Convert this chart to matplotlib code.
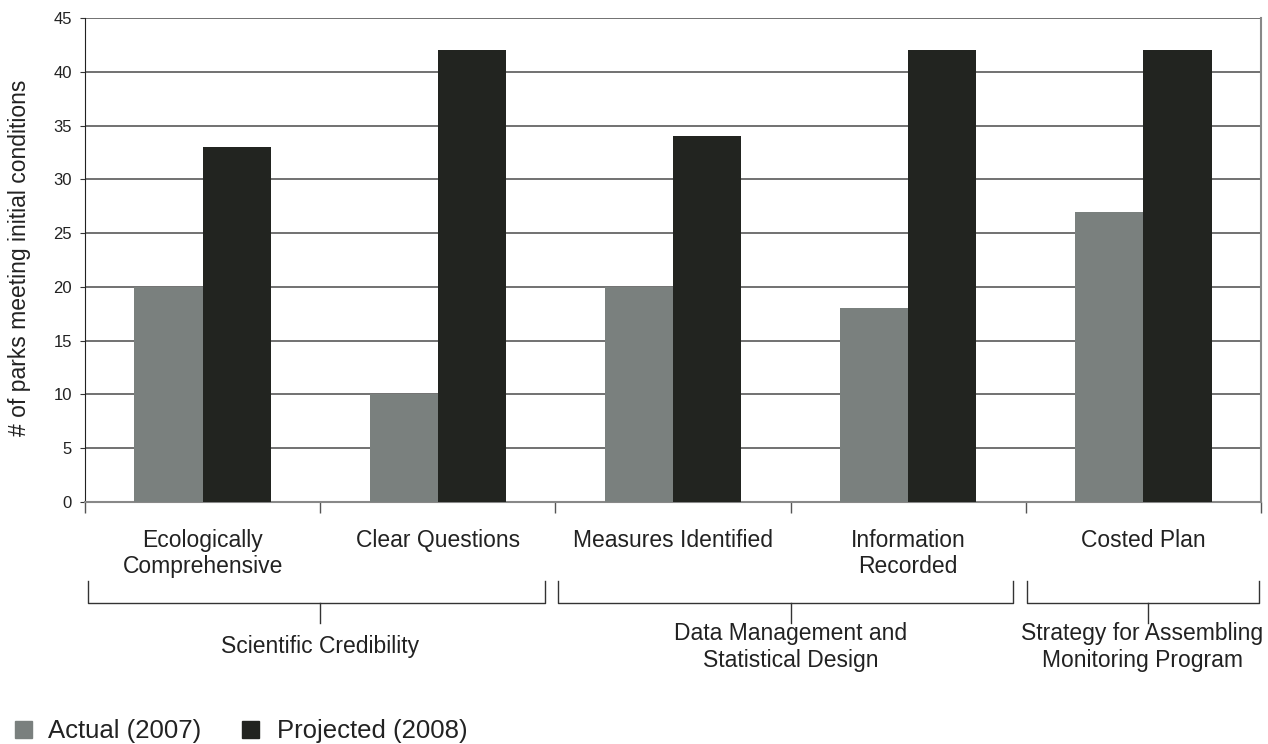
import matplotlib
matplotlib.use("Agg")
import matplotlib.pyplot as plt
from matplotlib.transforms import blended_transform_factory
from matplotlib.patches import Rectangle
import numpy as np

plt.rcParams['font.family'] = ['Liberation Sans', 'DejaVu Sans']

categories = ["Ecologically\nComprehensive", "Clear Questions", "Measures Identified",
              "Information\nRecorded", "Costed Plan"]
actual_2007 = [20, 10, 20, 18, 27]
projected_2008 = [33, 42, 34, 42, 42]
groups = ["Scientific Credibility", "Data Management and\nStatistical Design",
          "Strategy for Assembling\nMonitoring Program"]
series_names = ["Actual (2007)", "Projected (2008)"]
yticks = [0, 5, 10, 15, 20, 25, 30, 35, 40, 45]

W, H = 1268, 744
fig = plt.figure(figsize=(W / 100, H / 100), dpi=100)
ax = fig.add_axes([85 / W, (H - 502) / H, (1261 - 85) / W, (502 - 18) / H])

gray = "#7a807e"
black = "#222420"
x = np.arange(len(categories))
bw = 0.29
ax.bar(x - bw / 2, actual_2007, bw, color=gray, zorder=3, label=series_names[0])
ax.bar(x + bw / 2, projected_2008, bw, color=black, zorder=3, label=series_names[1])

ax.set_xlim(-0.5, len(categories) - 0.5)
ax.set_ylim(0, 45)
ax.set_yticks(yticks)
ax.yaxis.grid(True, color="#666666", linewidth=1.3, zorder=0)
ax.set_axisbelow(True)
ax.tick_params(axis='y', labelsize=12, length=3.6, color="#333333", pad=5.8, labelcolor="#222222")
ax.set_xticks(np.arange(-0.5, len(categories), 1.0))
ax.set_xticklabels([])
ax.tick_params(axis='x', length=8, color="#555555", width=1)
ax.spines["top"].set_visible(False)
ax.spines["left"].set_color("#222222")
ax.spines["bottom"].set_color("#888888")
ax.spines["bottom"].set_linewidth(1.5)
ax.spines["right"].set_color("#888888")
ax.spines["right"].set_linewidth(1.5)

fig.text(20 / W, (H - 258) / H, "# of parks meeting initial conditions", rotation=90,
         ha='center', va='center', fontsize=16.5, color="#222222")

tr = blended_transform_factory(ax.transData, fig.transFigure)
def fy(py):
    return (H - py) / H

for i, c in enumerate(categories):
    ax.text(i, fy(529), c, transform=tr, ha='center', va='top', fontsize=16.5,
            color="#222222", linespacing=1.17)

# brackets: (start, end, tick position, label position)
spans = [(-0.487, 1.457, 0.5, 0.5), (1.512, 3.445, 2.5, 2.5), (3.505, 4.49, 4.02, 3.995)]
for (a, b, c, lx), g in zip(spans, groups):
    ax.plot([a, a, b, b], [fy(581), fy(603), fy(603), fy(581)], transform=tr,
            color="#333333", lw=1, clip_on=False)
    ax.plot([c, c], [fy(603), fy(623)], transform=tr, color="#333333", lw=1, clip_on=False)
    ax.text(lx, fy(647), g, transform=tr, ha='center', va='center', fontsize=16.5,
            color="#222222", linespacing=1.26)

# legend (manual, figure pixels)
for (sx, tx), col, name in zip([(15, 48), (242, 277)], [gray, black], series_names):
    fig.patches.append(Rectangle((sx / W, (H - 738) / H), 17 / W, 17 / H,
                                 transform=fig.transFigure, color=col, figure=fig))
    fig.text(tx / W, (H - 738) / H, name, ha='left', va='baseline', fontsize=18.5,
             color="#222222")

fig.savefig("out.png", dpi=100, facecolor="white")
